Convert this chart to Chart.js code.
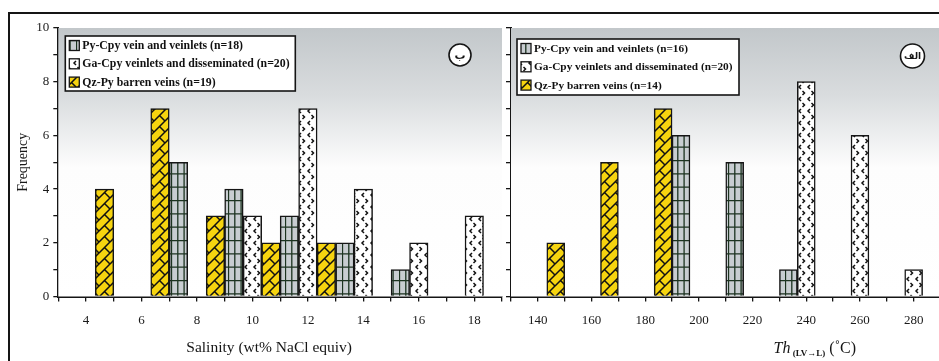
<!DOCTYPE html>
<html>
<head>
<meta charset="utf-8">
<script src="https://cdn.jsdelivr.net/npm/chart.js@4/dist/chart.umd.min.js"></script>
<style>
  html, body { margin: 0; padding: 0; background: #fff; overflow: hidden; width: 939px; height: 361px; }
  #frame { position: absolute; left: 8px; top: 12px; width: 980px; height: 400px;
           border-top: 2px solid #151515; border-left: 2px solid #151515; }
  #salBox { position: absolute; left: 0; top: 0; width: 513px; height: 361px; }
  #thBox  { position: absolute; left: 499.5px; top: 0; width: 451.5px; height: 361px; }
</style>
</head>
<body>
<div id="frame"></div>
<div id="salBox"><canvas id="salChart"></canvas></div>
<div id="thBox"><canvas id="thChart"></canvas></div>
<script>
// ---- data -------------------------------------------------------------
const seriesNames = ['Py-Cpy vein and veinlets', 'Ga-Cpy veinlets and disseminated', 'Qz-Py barren veins'];

// Salinity histogram (wt% NaCl equiv), one group of three bars per 2 % bin
const salinityBins   = [6, 8, 10, 12, 14, 16, 18];
const salinityPyCpy  = [0, 5, 4, 3, 2, 1, 0];
const salinityGaCpy  = [0, 0, 3, 7, 4, 2, 3];
const salinityQzPy   = [4, 7, 3, 2, 2, 0, 0];
const salinityCounts = [18, 20, 19];
const salinityTicks  = [4, 6, 8, 10, 12, 14, 16, 18];

// Homogenisation temperature histogram (°C), one group per 20 °C bin
const thBins   = [160, 180, 200, 220, 240, 260, 280];
const thPyCpy  = [0, 0, 6, 5, 1, 0, 0];
const thGaCpy  = [0, 0, 0, 0, 8, 6, 1];
const thQzPy   = [2, 5, 7, 0, 0, 0, 0];
const thCounts = [16, 20, 14];
const thTicks  = [140, 160, 180, 200, 220, 240, 260, 280];

const frequencyTicks = [0, 2, 4, 6, 8, 10];

// ---- fill patterns ----------------------------------------------------
function tile(w, h, paint) {
  const c = document.createElement('canvas');
  c.width = w; c.height = h;
  paint(c.getContext('2d'), w, h);
  return c;
}
const patternTiles = {
  // grey with a dark green grid (narrow, tall cells)
  grid: tile(19, 40, (g, w, h) => {
    g.fillStyle = '#c8cdd1'; g.fillRect(0, 0, w, h);
    g.strokeStyle = '#1c3320'; g.lineWidth = 1.3;
    g.beginPath();
    [0.5, 6.8, 13.1].forEach(x => { g.moveTo(x, 0); g.lineTo(x, h); });
    [0.5, 13.8, 27.1].forEach(y => { g.moveTo(0, y); g.lineTo(w, y); });
    g.stroke();
  }),
  // white with small staggered chevrons
  chevron: tile(9, 12, (g, w, h) => {
    g.fillStyle = '#ffffff'; g.fillRect(0, 0, w, h);
    g.strokeStyle = '#111'; g.lineWidth = 1.5;
    g.beginPath();
    g.moveTo(4, 1); g.lineTo(2, 3); g.lineTo(4, 5);
    g.moveTo(5.5, 7); g.lineTo(7.5, 9); g.lineTo(5.5, 11);
    g.stroke();
  }),
  // yellow diagonal brick
  brick: tile(11, 11, (g, w, h) => {
    g.fillStyle = '#f6d40f'; g.fillRect(0, 0, w, h);
    g.strokeStyle = '#111'; g.lineWidth = 1.5;
    g.beginPath();
    g.moveTo(-1, h + 1); g.lineTo(w + 1, -1);
    g.moveTo(w / 2, h / 2); g.lineTo(w + 1, h + 1);
    g.moveTo(-1, -1); g.lineTo(0.5, 0.5);
    g.stroke();
  })
};
function makeFill(ctx, name) { return ctx.createPattern(patternTiles[name], 'repeat'); }

// ---- panel decorations: shaded plot area, legend, panel letter, axis title
function makeDecor(o) {
  return {
    id: 'panelDecor',
    beforeDatasetsDraw(chart) {
      const { ctx, chartArea: a } = chart;
      const g = ctx.createLinearGradient(0, a.top, 0, a.bottom);
      g.addColorStop(0, '#c2c7ca');
      g.addColorStop(0.25, '#d9dcde');
      g.addColorStop(0.52, '#fdfdfd');
      g.addColorStop(1, '#ffffff');
      ctx.save();
      ctx.fillStyle = g;
      ctx.fillRect(a.left, a.top, a.right - a.left, a.bottom - a.top);
      ctx.restore();
    },
    afterDraw(chart) {
      const { ctx, chartArea: a } = chart;
      ctx.save();
      // legend box
      const bx = a.left + o.legend.dx, by = a.top + o.legend.dy;
      ctx.fillStyle = '#fff';
      ctx.fillRect(bx, by, o.legend.w, o.legend.h);
      ctx.strokeStyle = '#151515'; ctx.lineWidth = 1.6;
      ctx.strokeRect(bx, by, o.legend.w, o.legend.h);
      ctx.font = o.legend.font;
      ctx.textBaseline = 'middle';
      chart.data.datasets.forEach((ds, i) => {
        const cy = by + 9.5 + i * 18.3;
        ctx.fillStyle = ds.backgroundColor;
        ctx.fillRect(bx + 4, cy - 5, 10, 10);
        ctx.lineWidth = 1.3;
        ctx.strokeRect(bx + 4, cy - 5, 10, 10);
        ctx.fillStyle = '#111';
        ctx.fillText(ds.label, bx + 17, cy + 0.5);
      });
      // circled panel letter
      const mx = a.right + o.mark.dx, my = a.top + o.mark.dy;
      ctx.beginPath();
      ctx.arc(mx, my, o.mark.r, 0, Math.PI * 2);
      ctx.fillStyle = '#fff'; ctx.fill();
      ctx.lineWidth = 1.6; ctx.strokeStyle = '#151515'; ctx.stroke();
      ctx.fillStyle = '#151515';
      ctx.font = o.mark.font;
      ctx.textAlign = 'center';
      ctx.fillText(o.mark.text, mx, my + 1);
      // x-axis title, drawn in runs so each part can carry its own style
      const runs = o.title.runs;
      let total = 0;
      runs.forEach(p => { ctx.font = p.font; total += ctx.measureText(p.text).width; });
      let x = (a.left + a.right) / 2 + o.title.dx - total / 2;
      ctx.textAlign = 'left'; ctx.textBaseline = 'alphabetic';
      runs.forEach(p => {
        ctx.font = p.font;
        ctx.fillText(p.text, x, o.title.y + p.drop);
        x += ctx.measureText(p.text).width;
      });
      ctx.restore();
    }
  };
}

Chart.defaults.font.family = '"Liberation Serif", "Times New Roman", serif';
Chart.defaults.color = '#1a1a1a';

function buildPanel(canvasId, cfg) {
  const canvas = document.getElementById(canvasId);
  const ctx = canvas.getContext('2d');
  const step = cfg.bins[1] - cfg.bins[0];
  // bars sit left of each bin mark: Qz-Py, Py-Cpy, then Ga-Cpy centred on the mark
  const offsets = [-step / 3, 0, -2 * step / 3];
  const fills = ['grid', 'chevron', 'brick'];
  const datasets = cfg.series.map((vals, s) => ({
    label: seriesNames[s] + ' (n=' + cfg.counts[s] + ')',
    data: cfg.bins.map((b, i) => ({ x: b + offsets[s], y: vals[i] === 0 ? null : vals[i] })),
    backgroundColor: makeFill(ctx, fills[s]),
    borderColor: '#151515',
    borderWidth: 1.5,
    grouped: false,
    categoryPercentage: 1,
    barPercentage: 1
  }));
  return new Chart(ctx, {
    type: 'bar',
    data: { datasets },
    plugins: [makeDecor(cfg.decor)],
    options: {
      responsive: true,
      maintainAspectRatio: false,
      animation: false,
      devicePixelRatio: 1,
      layout: { padding: cfg.padding },
      plugins: {
        legend: { display: false },
        tooltip: { enabled: false }
      },
      scales: {
        x: {
          type: 'linear',
          min: cfg.xMin, max: cfg.xMax,
          offset: false,
          grid: { offset: false, drawOnChartArea: false, drawTicks: true, tickLength: 5, color: '#151515', lineWidth: 1.3 },
          border: { display: true, color: '#151515', width: 2 },
          ticks: {
            stepSize: cfg.xStep, autoSkip: false, maxRotation: 0, padding: 11,
            font: { size: 13 },
            callback: v => cfg.tickLabels.includes(v) ? String(v) : ''
          },
          afterFit: s => { s.height = cfg.xAxisHeight; }
        },
        y: {
          min: 0, max: 10,
          grid: { drawOnChartArea: false, drawTicks: true, tickLength: 5, color: '#151515', lineWidth: 1.3 },
          border: { display: true, color: '#151515', width: 2 },
          ticks: {
            display: cfg.yLabels, stepSize: 1, autoSkip: false, padding: 4,
            font: { size: 13 },
            callback: v => frequencyTicks.includes(v) ? String(v) : ''
          },
          title: cfg.yLabels ? { display: true, text: 'Frequency', font: { size: 14 }, padding: { top: 15 } } : { display: false },
          afterFit: s => { s.width = cfg.yAxisWidth; }
        }
      }
    }
  });
}

buildPanel('salChart', {
  bins: salinityBins,
  series: [salinityPyCpy, salinityGaCpy, salinityQzPy],
  counts: salinityCounts,
  tickLabels: salinityTicks,
  xMin: 3, xMax: 19, xStep: 1,
  padding: { left: 0, top: 28, right: 0, bottom: 0 },
  xAxisHeight: 64.5, yAxisWidth: 58.3, yLabels: true,
  decor: {
    legend: { dx: 7, dy: 8, w: 230, h: 55, font: 'bold 11.8px "Liberation Serif", serif' },
    mark: { text: 'ب', dx: -42, dy: 27, r: 11, font: 'bold 11px "DejaVu Sans", sans-serif' },
    title: { dx: -11, y: 352, runs: [{ text: 'Salinity (wt% NaCl equiv)', font: '15.5px "Liberation Serif", serif', drop: 0 }] }
  }
});

buildPanel('thChart', {
  bins: thBins,
  series: [thPyCpy, thGaCpy, thQzPy],
  counts: thCounts,
  tickLabels: thTicks,
  xMin: 130, xMax: 290, xStep: 10,
  padding: { left: 0, top: 28, right: 0, bottom: 0 },
  xAxisHeight: 64.5, yAxisWidth: 11, yLabels: false,
  decor: {
    legend: { dx: 6, dy: 11, w: 222, h: 56, font: 'bold 11.3px "Liberation Serif", serif' },
    mark: { text: 'الف', dx: -28, dy: 28, r: 12, font: 'bold 9px "DejaVu Sans", sans-serif' },
    title: { dx: 89, y: 353, runs: [
      { text: 'Th', font: 'italic 16px "Liberation Serif", serif', drop: 0 },
      { text: ' (LV\u2192L)', font: 'bold 9px "Liberation Serif", serif', drop: 3 },
      { text: ' (\u02DAC)', font: '16px "Liberation Serif", serif', drop: 0 }
    ] }
  }
});
</script>
</body>
</html>
